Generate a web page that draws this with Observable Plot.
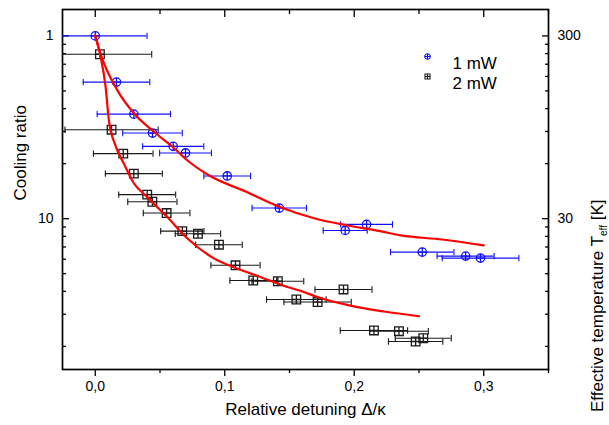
<!DOCTYPE html>
<html><head><meta charset="utf-8">
<script src="https://cdn.jsdelivr.net/npm/d3@7"></script>
<script src="https://cdn.jsdelivr.net/npm/@observablehq/plot@0.6"></script>
<style>
body{margin:0;background:#fff;}
#chart{width:609px;height:425px;}
</style></head><body><div id="chart"></div>
<script>
// ---- data ----
const blueDetuning = [0.000, 0.0164, 0.0298, 0.0442, 0.0602, 0.0697, 0.1019, 0.1421, 0.1930, 0.2095, 0.2525, 0.2860, 0.2975];
const blueRatio    = [1.00, 1.79, 2.68, 3.40, 4.02, 4.37, 5.84, 8.75, 11.6, 10.75, 15.24, 16.03, 16.44];
const blueErr      = [0.040, 0.0257, 0.0283, 0.0230, 0.0236, 0.0200, 0.0180, 0.0210, 0.0170, 0.0200, 0.0245, 0.0220, 0.0296];

const blackDetuning = [0.0036, 0.0126, 0.0216, 0.0298, 0.0401, 0.0441, 0.0551, 0.0672, 0.0793, 0.0955, 0.1083, 0.1220, 0.1410, 0.1553, 0.1717, 0.1917, 0.2152, 0.2345, 0.2533, 0.2474];
const blackRatio    = [1.26, 3.26, 4.41, 5.67, 7.39, 8.08, 9.32, 11.7, 12.1, 13.88, 18.0, 21.8, 22.0, 27.7, 28.6, 24.4, 40.9, 41.3, 45.1, 47.0];
const blackErr      = [0.040, 0.036, 0.023, 0.022, 0.022, 0.019, 0.018, 0.0167, 0.0175, 0.018, 0.019, 0.018, 0.020, 0.023, 0.026, 0.022, 0.026, 0.0227, 0.0216, 0.021];

const fit1Detuning = [0, 0.004, 0.017, 0.030, 0.047, 0.061, 0.071, 0.087, 0.117, 0.143, 0.169, 0.195, 0.220, 0.236, 0.268, 0.300];
const fit1Ratio    = [1, 1.25, 1.98, 2.66, 3.42, 4.12, 4.79, 5.75, 7.15, 8.66, 9.95, 10.9, 11.7, 12.35, 13.0, 14.0];
const fit2Detuning = [0, 0.0036, 0.008, 0.0105, 0.0157, 0.0221, 0.0298, 0.040, 0.0556, 0.071, 0.0916, 0.110, 0.128, 0.145, 0.161, 0.172, 0.197, 0.223, 0.250];
const fit2Ratio    = [1, 1.25, 1.9, 2.89, 4.0, 5.0, 6.4, 7.6, 9.8, 12.8, 16.5, 18.8, 20.9, 23.2, 25.2, 26.9, 29.9, 32.2, 34.2];

const seriesNames = ["1 mW", "2 mW"];
const xTicksMajor = [0, 0.1, 0.2, 0.3];
const xTicksMinor = [0.05, 0.15, 0.25, 0.35];
const xTickLabels = ["0,0", "0,1", "0,2", "0,3"];
const yTicksMajor = [1, 10];
const yTickLabels = ["1", "10"];
const rightTickLabels = ["300", "30"];
const yTicksMinor = [1.111, 1.25, 1.4286, 1.6667, 2, 2.5, 3.3333, 5, 11.11, 12.5, 14.286, 16.667, 20, 25, 33.333, 50];

// ---- build tables ----
const blue = blueDetuning.map((x, i) => ({x, r: blueRatio[i], e: blueErr[i]}));
const black = blackDetuning.map((x, i) => ({x, r: blackRatio[i], e: blackErr[i]}));
const fit1 = fit1Detuning.map((x, i) => ({x, r: fit1Ratio[i]}));
const fit2 = fit2Detuning.map((x, i) => ({x, r: fit2Ratio[i]}));

const BLUE = "#1010ff", BLACK = "#1a1a1a", RED = "#ff0000";

const circlePlus = {draw(ctx, size) {const r = Math.sqrt(size / Math.PI); ctx.moveTo(r, 0); ctx.arc(0, 0, r, 0, 2 * Math.PI); ctx.moveTo(-r, 0); ctx.lineTo(r, 0); ctx.moveTo(0, -r); ctx.lineTo(0, r);}};
const squarePlus = {draw(ctx, size) {const r = Math.sqrt(size / Math.PI); ctx.rect(-r, -r, 2 * r, 2 * r); ctx.moveTo(-r, 0); ctx.lineTo(r, 0); ctx.moveTo(0, -r); ctx.lineTo(0, r);}};
const vcap = {draw(ctx, size) {const r = Math.sqrt(size / Math.PI); ctx.moveTo(0, -r); ctx.lineTo(0, r);}};

function errorMarks(data, color) {
  return [
    Plot.ruleY(data, {y: "r", x1: d => d.x - d.e, x2: d => d.x + d.e, stroke: color, strokeWidth: 1.1, clip: true}),
    Plot.dot(data, {x: d => d.x - d.e, y: "r", symbol: vcap, r: 3.2, stroke: color, strokeWidth: 1.1, clip: true}),
    Plot.dot(data, {x: d => d.x + d.e, y: "r", symbol: vcap, r: 3.2, stroke: color, strokeWidth: 1.1, clip: true})
  ];
}

const FONT = "'Liberation Sans', Arial, Helvetica, sans-serif";

const chart = Plot.plot({
  width: 609,
  height: 425,
  marginLeft: 62,
  marginRight: 61,
  marginTop: 9,
  marginBottom: 56,
  style: {fontFamily: FONT, fontSize: "14px", color: "#000", background: "#fff"},
  x: {domain: [-0.0253, 0.350]},
  y: {type: "log", domain: [0.717, 66.9], reverse: true},
  marks: [
    // axes: ticks
    Plot.axisX(xTicksMajor, {anchor: "bottom", tickSize: 7, fill: "none", label: null, strokeWidth: 1.3}),
    Plot.axisX(xTicksMinor, {anchor: "bottom", tickSize: 4, fill: "none", label: null, strokeWidth: 1.3}),
    Plot.axisX(xTicksMajor, {anchor: "bottom", tickSize: 0, tickPadding: 12, label: null, fontSize: 14,
      tickFormat: d => xTickLabels[xTicksMajor.indexOf(d)]}),
    Plot.axisX(xTicksMajor, {anchor: "top", tickSize: -7, fill: "none", label: null, strokeWidth: 1.3}),
    Plot.axisX(xTicksMinor, {anchor: "top", tickSize: -4, fill: "none", label: null, strokeWidth: 1.3}),
    Plot.axisY(yTicksMajor, {anchor: "left", tickSize: -7, fill: "none", label: null, strokeWidth: 1.3}),
    Plot.axisY(yTicksMinor, {anchor: "left", tickSize: -4, fill: "none", label: null, strokeWidth: 1.3}),
    Plot.axisY(yTicksMajor, {anchor: "left", tickSize: 0, tickPadding: 9, label: null, fontSize: 14,
      tickFormat: d => yTickLabels[yTicksMajor.indexOf(d)]}),
    Plot.axisY(yTicksMajor, {anchor: "right", tickSize: -7, fill: "none", label: null, strokeWidth: 1.3}),
    Plot.axisY(yTicksMinor, {anchor: "right", tickSize: -4, fill: "none", label: null, strokeWidth: 1.3}),
    Plot.axisY(yTicksMajor, {anchor: "right", tickSize: 0, tickPadding: 9, label: null, fontSize: 14,
      tickFormat: d => rightTickLabels[yTicksMajor.indexOf(d)]}),
    Plot.frame({stroke: "#000", strokeWidth: 1.7}),
    // error bars
    ...errorMarks(black, BLACK),
    ...errorMarks(blue, BLUE),
    // markers
    Plot.dot(black, {x: "x", y: "r", symbol: squarePlus, r: 4.3, stroke: BLACK, strokeWidth: 1.3, fill: "none"}),
    Plot.dot(blue, {x: "x", y: "r", symbol: circlePlus, r: 4.2, stroke: BLUE, strokeWidth: 1.3, fill: "none"}),
    // fit curves
    Plot.line(fit1, {x: "x", y: "r", stroke: RED, strokeWidth: 2.2, curve: "monotone-x"}),
    Plot.line(fit2, {x: "x", y: "r", stroke: RED, strokeWidth: 2.2, curve: "monotone-x"}),
    // legend
    Plot.dot([seriesNames[0]], {frameAnchor: "top-left", dx: 365, dy: 47, symbol: circlePlus, r: 2.8, stroke: BLUE, strokeWidth: 1.1, fill: "none"}),
    Plot.dot([seriesNames[1]], {frameAnchor: "top-left", dx: 365, dy: 67, symbol: squarePlus, r: 2.5, stroke: BLACK, strokeWidth: 1.1, fill: "none"}),
    Plot.text([seriesNames[0]], {frameAnchor: "top-left", dx: 390, dy: 47, text: d => d, textAnchor: "start", fontSize: 17}),
    Plot.text([seriesNames[1]], {frameAnchor: "top-left", dx: 390, dy: 67, text: d => d, textAnchor: "start", fontSize: 17}),
    // axis titles
    Plot.text(["Cooling ratio"], {frameAnchor: "left", dx: -42, dy: 11, rotate: -90, text: d => d, fontSize: 17}),
    Plot.text(["Relative detuning Δ/κ"], {frameAnchor: "bottom", dy: 45, text: d => d, fontSize: 17}),
    Plot.text(["Effective temperature Teff [K]"], {frameAnchor: "right", dx: 49, dy: 10, rotate: -90, text: d => d, fontSize: 17})
  ]
});

// subscript "eff" in the right axis title
chart.querySelectorAll("text").forEach(t => {
  if (t.textContent === "Effective temperature Teff [K]") {
    t.textContent = "";
    const ns = "http://www.w3.org/2000/svg";
    const a = document.createElementNS(ns, "tspan"); a.textContent = "Effective temperature T";
    const b = document.createElementNS(ns, "tspan"); b.textContent = "eff"; b.setAttribute("font-size", "10"); b.setAttribute("dy", "4");
    const c = document.createElementNS(ns, "tspan"); c.textContent = " [K]"; c.setAttribute("dy", "-4");
    t.append(a, b, c);
  }
});

document.getElementById("chart").append(chart);
</script>
</body></html>
